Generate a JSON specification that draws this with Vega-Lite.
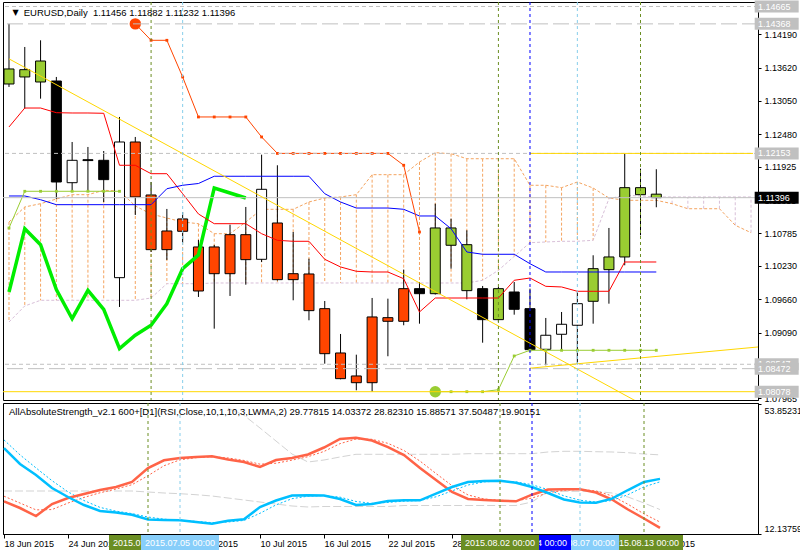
{
"$schema": "https://vega.github.io/schema/vega-lite/v6.json",
"padding": {"left": 2, "top": 0, "right": 0, "bottom": 0},
"background": "white",
"spacing": 3,
"bounds": "flush",
"config": {
  "font": "Liberation Sans",
  "view": {"stroke": "black", "strokeWidth": 1},
  "axis": {"labelFont": "Liberation Sans", "labelFontSize": 9, "labelColor": "black", "domainColor": "black", "tickColor": "black", "grid": false, "labelOverlap": false},
  "text": {"font": "Liberation Sans", "fontSize": 9}
},
"datasets": {
  "candles": [
    {"i":0,"o":1.13340,"h":1.14368,"l":1.13289,"c":1.13597,"t":"green"},
    {"i":1,"o":1.13460,"h":1.13973,"l":1.12918,"c":1.13585,"t":"green"},
    {"i":2,"o":1.13374,"h":1.14087,"l":1.13089,"c":1.13733,"t":"green"},
    {"i":3,"o":1.13391,"h":1.13460,"l":1.11374,"c":1.11664,"t":"black"},
    {"i":4,"o":1.11652,"h":1.12348,"l":1.11493,"c":1.12035,"t":"white"},
    {"i":5,"o":1.12030,"h":1.12263,"l":1.11493,"c":1.12045,"t":"black"},
    {"i":6,"o":1.12035,"h":1.12194,"l":1.11322,"c":1.11704,"t":"black"},
    {"i":7,"o":1.10028,"h":1.12776,"l":1.09527,"c":1.12348,"t":"white"},
    {"i":8,"o":1.12348,"h":1.12434,"l":1.11100,"c":1.11408,"t":"red"},
    {"i":9,"o":1.11442,"h":1.11664,"l":1.10467,"c":1.10507,"t":"red"},
    {"i":10,"o":1.10826,"h":1.11203,"l":1.10331,"c":1.10507,"t":"red"},
    {"i":11,"o":1.11032,"h":1.11151,"l":1.10626,"c":1.10821,"t":"red"},
    {"i":12,"o":1.10553,"h":1.10673,"l":1.09698,"c":1.09800,"t":"red"},
    {"i":13,"o":1.10553,"h":1.10587,"l":1.09156,"c":1.10096,"t":"red"},
    {"i":14,"o":1.10763,"h":1.10934,"l":1.09715,"c":1.10096,"t":"red"},
    {"i":15,"o":1.10763,"h":1.11237,"l":1.09908,"c":1.10336,"t":"red"},
    {"i":16,"o":1.10342,"h":1.12131,"l":1.10296,"c":1.11539,"t":"white"},
    {"i":17,"o":1.10963,"h":1.11950,"l":1.09980,"c":1.09994,"t":"red"},
    {"i":18,"o":1.10096,"h":1.10809,"l":1.09641,"c":1.09994,"t":"red"},
    {"i":19,"o":1.10091,"h":1.10353,"l":1.09299,"c":1.09464,"t":"red"},
    {"i":20,"o":1.09498,"h":1.09629,"l":1.08557,"c":1.08728,"t":"red"},
    {"i":21,"o":1.08740,"h":1.09065,"l":1.08290,"c":1.08301,"t":"red"},
    {"i":22,"o":1.08347,"h":1.08711,"l":1.08102,"c":1.08232,"t":"red"},
    {"i":23,"o":1.08232,"h":1.09681,"l":1.08078,"c":1.09356,"t":"red"},
    {"i":24,"o":1.09344,"h":1.09669,"l":1.08684,"c":1.09282,"t":"red"},
    {"i":25,"o":1.09282,"h":1.10165,"l":1.09214,"c":1.09840,"t":"red"},
    {"i":26,"o":1.09840,"h":1.09954,"l":1.09241,"c":1.09754,"t":"black"},
    {"i":27,"o":1.09754,"h":1.11293,"l":1.09740,"c":1.10878,"t":"green"},
    {"i":28,"o":1.10878,"h":1.11037,"l":1.10182,"c":1.10582,"t":"green"},
    {"i":29,"o":1.10592,"h":1.10838,"l":1.09658,"c":1.09806,"t":"green"},
    {"i":30,"o":1.09840,"h":1.09886,"l":1.08916,"c":1.09310,"t":"black"},
    {"i":31,"o":1.09310,"h":1.09869,"l":1.09270,"c":1.09840,"t":"green"},
    {"i":32,"o":1.09783,"h":1.09954,"l":1.09395,"c":1.09487,"t":"black"},
    {"i":33,"o":1.09498,"h":1.09840,"l":1.08757,"c":1.08797,"t":"black"},
    {"i":34,"o":1.08803,"h":1.09339,"l":1.08530,"c":1.09043,"t":"white"},
    {"i":35,"o":1.09060,"h":1.09441,"l":1.08786,"c":1.09231,"t":"white"},
    {"i":36,"o":1.09214,"h":1.09783,"l":1.08552,"c":1.09583,"t":"white"},
    {"i":37,"o":1.09624,"h":1.10411,"l":1.09241,"c":1.10182,"t":"green"},
    {"i":38,"o":1.10165,"h":1.10878,"l":1.09583,"c":1.10382,"t":"green"},
    {"i":39,"o":1.10382,"h":1.12153,"l":1.10240,"c":1.11567,"t":"green"},
    {"i":40,"o":1.11567,"h":1.11892,"l":1.10753,"c":1.11447,"t":"green"},
    {"i":41,"o":1.11456,"h":1.11882,"l":1.11232,"c":1.11396,"t":"green"}
  ],
  "ind": [
    {"i":0,"red":1.12605,"blue":1.11425,"lime":1.09783,"yg1":1.10877},
    {"i":1,"red":1.12929,"blue":1.11425,"lime":1.10866,"yg1":1.11505},
    {"i":2,"red":1.12929,"blue":1.11361,"lime":1.10592,"yg1":1.11505},
    {"i":3,"red":1.12849,"blue":1.11276,"lime":1.09823,"yg1":1.11505},
    {"i":4,"red":1.12844,"blue":1.11276,"lime":1.09326,"yg1":1.11505},
    {"i":5,"red":1.12844,"blue":1.11276,"lime":1.09812,"yg1":1.11505},
    {"i":6,"red":1.12839,"blue":1.11276,"lime":1.09487,"yg1":1.11505},
    {"i":7,"red":1.11950,"blue":1.11276,"lime":1.08814,"yg1":1.11505},
    {"i":8,"red":1.11950,"blue":1.11276,"lime":1.09043,"stop":1.14368},
    {"i":9,"red":1.11806,"blue":1.11276,"lime":1.09214,"stop":1.14087},
    {"i":10,"red":1.11806,"blue":1.11549,"lime":1.09583,"stop":1.14087},
    {"i":11,"red":1.11464,"blue":1.11608,"lime":1.10182,"stop":1.13460},
    {"i":12,"red":1.11117,"blue":1.11638,"lime":1.10416,"stop":1.12776},
    {"i":13,"red":1.10951,"blue":1.11762,"lime":1.11562,"stop":1.12776},
    {"i":14,"red":1.10951,"blue":1.11762,"lime":1.11476,"stop":1.12776},
    {"i":15,"red":1.10951,"blue":1.11762,"lime":1.11391,"stop":1.12776},
    {"i":16,"red":1.10780,"blue":1.11762,"stop":1.12434},
    {"i":17,"red":1.10667,"blue":1.11762,"stop":1.12153},
    {"i":18,"red":1.10650,"blue":1.11762,"stop":1.12153},
    {"i":19,"red":1.10650,"blue":1.11762,"stop":1.12153},
    {"i":20,"red":1.10342,"blue":1.11464,"stop":1.12153},
    {"i":21,"red":1.10211,"blue":1.11322,"stop":1.12153},
    {"i":22,"red":1.10137,"blue":1.11219,"stop":1.12153},
    {"i":23,"red":1.10125,"blue":1.11219,"stop":1.12153},
    {"i":24,"red":1.10125,"blue":1.11219,"stop":1.12153},
    {"i":25,"red":1.10010,"blue":1.11197,"stop":1.11950},
    {"i":26,"red":1.09441,"blue":1.11083,"stop":1.10809},
    {"i":27,"red":1.09680,"blue":1.11083,"yg2":1.08078},
    {"i":28,"red":1.09680,"blue":1.10865,"yg2":1.08078},
    {"i":29,"red":1.09680,"blue":1.10467,"yg2":1.08078},
    {"i":30,"red":1.09680,"blue":1.10428,"yg2":1.08078},
    {"i":31,"red":1.09680,"blue":1.10428,"yg2":1.08112},
    {"i":32,"red":1.09983,"blue":1.10428,"yg2":1.08689},
    {"i":33,"red":1.10022,"blue":1.10267,"yg2":1.08786},
    {"i":34,"red":1.09880,"blue":1.10125,"yg2":1.08786},
    {"i":35,"red":1.09869,"blue":1.10125,"yg2":1.08786},
    {"i":36,"red":1.09795,"blue":1.10125,"yg2":1.08786},
    {"i":37,"red":1.09795,"blue":1.10125,"yg2":1.08786},
    {"i":38,"red":1.09795,"blue":1.10125,"yg2":1.08786},
    {"i":39,"red":1.10296,"blue":1.10125,"yg2":1.08786},
    {"i":40,"red":1.10296,"blue":1.10125,"yg2":1.08786},
    {"i":41,"red":1.10296,"blue":1.10125,"yg2":1.08786}
  ],
  "ich": [
    {"i":0,"A":1.10980,"B":1.09270},{"i":1,"A":1.11237,"B":1.09544},{"i":2,"A":1.11293,"B":1.09641},
    {"i":3,"A":1.11373,"B":1.09641},{"i":4,"A":1.11447,"B":1.09641},{"i":5,"A":1.11447,"B":1.09641},
    {"i":6,"A":1.11522,"B":1.09641},{"i":7,"A":1.11510,"B":1.09641},{"i":8,"A":1.11254,"B":1.09641},
    {"i":9,"A":1.11117,"B":1.09680},{"i":10,"A":1.11048,"B":1.09925},{"i":11,"A":1.10980,"B":1.09925},
    {"i":12,"A":1.10951,"B":1.09925},{"i":13,"A":1.10780,"B":1.09937},{"i":14,"A":1.10780,"B":1.09937},
    {"i":15,"A":1.10980,"B":1.09937},{"i":16,"A":1.11197,"B":1.09937},{"i":17,"A":1.11197,"B":1.09937},
    {"i":18,"A":1.11197,"B":1.09937},{"i":19,"A":1.11322,"B":1.09937},{"i":20,"A":1.11390,"B":1.09937},
    {"i":21,"A":1.11408,"B":1.09937},{"i":22,"A":1.11447,"B":1.09937},{"i":23,"A":1.11789,"B":1.09937},
    {"i":24,"A":1.11789,"B":1.09937},{"i":25,"A":1.11789,"B":1.09937},{"i":26,"A":1.12006,"B":1.09937},
    {"i":27,"A":1.12165,"B":1.09937},{"i":28,"A":1.12148,"B":1.09937},{"i":29,"A":1.12062,"B":1.09937},
    {"i":30,"A":1.12062,"B":1.09983},{"i":31,"A":1.12062,"B":1.10154},{"i":32,"A":1.12062,"B":1.10393},
    {"i":33,"A":1.11608,"B":1.10626},{"i":34,"A":1.11608,"B":1.10638},{"i":35,"A":1.11567,"B":1.10650},
    {"i":36,"A":1.11664,"B":1.10650},{"i":37,"A":1.11561,"B":1.10667},{"i":38,"A":1.11390,"B":1.11378},
    {"i":39,"A":1.11351,"B":1.11437},{"i":40,"A":1.11351,"B":1.11425},{"i":41,"A":1.11351,"B":1.11408},
    {"i":42,"A":1.11293,"B":1.11408},{"i":43,"A":1.11207,"B":1.11408},{"i":44,"A":1.11207,"B":1.11408},
    {"i":45,"A":1.11207,"B":1.11408},{"i":46,"A":1.10924,"B":1.11408},{"i":47,"A":1.10797,"B":1.11408}
  ],
  "hl": [
    {"price":1.14665,"kind":"short"},
    {"price":1.14368,"kind":"long"},
    {"price":1.12153,"kind":"short"},
    {"price":1.11396,"kind":"solid"},
    {"price":1.08547,"kind":"short"},
    {"price":1.08472,"kind":"long"},
    {"price":1.08078,"kind":"gold"}
  ],
  "ray": [{"i":33,"price":1.12153}],
  "tl": [
    {"id":"t1","i":0,"price":1.13770},{"id":"t1","i":41,"price":1.07728},
    {"id":"t2","i":33,"price":1.08480},{"id":"t2","i":50,"price":1.08907}
  ],
  "vl": [
    {"i":9,"kind":"olive","label":"2015.07.01 00:00"},
    {"i":11,"kind":"lightblue","label":"2015.07.05 00:00"},
    {"i":31,"kind":"olive","label":"2015.08.02 00:00"},
    {"i":33,"kind":"blue","label":"2015.08.04 00:00"},
    {"i":36,"kind":"lightblue","label":"2015.08.07 00:00"},
    {"i":40,"kind":"olive","label":"2015.08.13 00:00"}
  ],
  "tags": [
    {"price":1.14665,"kind":"grey","label":"1.14665"},
    {"price":1.14368,"kind":"grey","label":"1.14368"},
    {"price":1.12153,"kind":"grey","label":"1.12153"},
    {"price":1.08547,"kind":"grey","label":"1.08547"},
    {"price":1.08472,"kind":"grey","label":"1.08472"},
    {"price":1.08078,"kind":"grey","label":"1.08078"},
    {"price":1.11396,"kind":"black","label":"1.11396"}
  ],
  "hdr": [
    {"panel":"arrow","text":"▼"},
    {"panel":"main","text":"EURUSD,Daily\u00a0 1.11456 1.11882 1.11232 1.11396"},
    {"panel":"ind","text":"AllAbsoluteStrength_v2.1 600+[D1](RSI,Close,10,1,10,3,LWMA,2) 29.77815 14.03372 28.82310 15.88571 37.50487 19.90151"}
  ],
  "str": [
    {"i":0,"red":22.56,"blue":39.70,"rs":24.2,"bs":42.3,"gl":25.87},
    {"i":1,"red":20.40,"blue":34.56,"rs":22.0,"bs":37.5,"gl":25.87},
    {"i":2,"red":17.83,"blue":31.02,"rs":19.8,"bs":33.3,"gl":25.87},
    {"i":3,"red":21.69,"blue":26.84,"rs":19.9,"bs":29.2,"gl":25.87},
    {"i":4,"red":23.62,"blue":23.94,"rs":22.0,"bs":25.6,"gl":25.87},
    {"i":5,"red":24.91,"blue":21.37,"rs":23.8,"bs":22.8,"gl":25.87},
    {"i":6,"red":26.19,"blue":19.44,"rs":25.3,"bs":20.6,"gl":25.87},
    {"i":7,"red":27.16,"blue":18.96,"rs":26.5,"bs":19.4,"gl":25.87},
    {"i":8,"red":28.77,"blue":18.25,"rs":27.9,"bs":18.6,"gl":25.87},
    {"i":9,"red":33.27,"blue":16.70,"rs":30.8,"bs":17.5,"gl":25.55},
    {"i":10,"red":35.75,"blue":16.54,"rs":34.0,"bs":16.8,"gl":25.23},
    {"i":11,"red":36.49,"blue":16.45,"rs":35.9,"bs":16.5,"gl":25.00},
    {"i":12,"red":36.81,"blue":15.90,"rs":36.6,"bs":16.1,"gl":24.68},
    {"i":13,"red":37.03,"blue":15.35,"rs":36.9,"bs":15.7,"gl":24.26},
    {"i":14,"red":36.00,"blue":16.32,"rs":36.5,"bs":15.9,"gl":23.62,"gu":52.5},
    {"i":15,"red":35.20,"blue":16.77,"rs":35.7,"bs":16.4,"gl":22.98,"gu":50.22},
    {"i":16,"red":33.59,"blue":20.73,"rs":34.5,"bs":18.7,"gl":22.33,"gu":46.14},
    {"i":17,"red":35.84,"blue":22.82,"rs":34.8,"bs":21.4,"gl":21.69,"gu":41.95},
    {"i":18,"red":36.49,"blue":24.42,"rs":35.8,"bs":23.4,"gl":21.05,"gu":37.77},
    {"i":19,"red":37.61,"blue":24.49,"rs":36.9,"bs":24.2,"gl":20.73,"gu":35.20},
    {"i":20,"red":39.86,"blue":24.42,"rs":38.6,"bs":24.4,"gl":20.89,"gu":35.84},
    {"i":21,"red":42.60,"blue":23.30,"rs":41.1,"bs":23.9,"gl":20.89,"gu":36.81},
    {"i":22,"red":43.02,"blue":21.37,"rs":42.6,"bs":22.5,"gl":20.89,"gu":37.68},
    {"i":23,"red":42.12,"blue":21.69,"rs":42.5,"bs":21.9,"gl":20.89,"gu":37.68},
    {"i":24,"red":40.02,"blue":22.66,"rs":41.2,"bs":22.2,"gl":20.89,"gu":37.68},
    {"i":25,"red":37.45,"blue":22.88,"rs":38.9,"bs":22.6,"gl":21.21,"gu":37.68},
    {"i":26,"red":33.27,"blue":22.88,"rs":35.5,"bs":22.8,"gl":21.21,"gu":37.68},
    {"i":27,"red":29.41,"blue":25.00,"rs":31.5,"bs":24.0,"gl":21.21,"gu":37.68},
    {"i":28,"red":25.55,"blue":27.16,"rs":27.6,"bs":25.9,"gl":21.21,"gu":37.68},
    {"i":29,"red":23.30,"blue":28.77,"rs":24.6,"bs":27.8,"gl":21.21,"gu":37.87},
    {"i":30,"red":22.98,"blue":29.09,"rs":23.3,"bs":28.8,"gl":21.21,"gu":37.87},
    {"i":31,"red":22.75,"blue":29.18,"rs":22.9,"bs":29.1,"gl":21.21,"gu":37.87},
    {"i":32,"red":22.56,"blue":28.54,"rs":22.7,"bs":28.8,"gl":21.21,"gu":37.87},
    {"i":33,"red":24.68,"blue":27.16,"rs":23.6,"bs":27.9,"gl":22.33,"gu":37.87},
    {"i":34,"red":26.35,"blue":25.23,"rs":25.3,"bs":26.3,"gl":25.77,"gu":38.42},
    {"i":35,"red":26.42,"blue":23.14,"rs":26.1,"bs":24.3,"gl":25.77,"gu":38.64},
    {"i":36,"red":26.42,"blue":22.17,"rs":26.4,"bs":22.9,"gl":25.77,"gu":38.64},
    {"i":37,"red":25.39,"blue":22.11,"rs":25.9,"bs":22.3,"gl":25.77,"gu":38.51},
    {"i":38,"red":23.14,"blue":23.40,"rs":24.3,"bs":22.8,"gl":25.23,"gu":38.42},
    {"i":39,"red":19.92,"blue":26.19,"rs":21.6,"bs":24.7,"gl":23.94,"gu":38.19},
    {"i":40,"red":17.03,"blue":28.77,"rs":18.5,"bs":27.2,"gl":22.01,"gu":37.77},
    {"i":41,"red":14.03,"blue":29.78,"rs":15.89,"bs":28.82,"gl":19.90,"gu":37.50}
  ]
},
"vconcat": [
{
  "width": 755,
  "height": 398,
  "resolve": {"scale": {"color": "independent", "strokeDash": "independent"}},
  "layer": [
    {"data": {"name": "ich"},
     "mark": {"type": "rule", "strokeDash": [3, 2], "strokeWidth": 1, "clip": true},
     "encoding": {
       "x": {"field": "i", "type": "quantitative", "scale": {"domain": [-0.0625, 47.125], "nice": false, "zero": false}, "axis": null},
       "y": {"field": "A", "type": "quantitative", "scale": {"domain": [1.07936, 1.14742], "nice": false, "zero": false}, "axis": {"orient": "right", "title": null, "values": [1.14190, 1.13620, 1.13050, 1.12480, 1.11925, 1.11355, 1.10785, 1.10230, 1.09660, 1.09090, 1.08520, 1.07965], "format": ".5f", "tickSize": 3, "labelPadding": 3, "labelOverlap": false, "labelFlush": false}},
       "y2": {"field": "B"},
       "color": {"condition": {"test": "datum.A >= datum.B", "value": "#F4A460"}, "value": "#D8BFD8"}}},
    {"data": {"name": "ich"},
     "mark": {"type": "line", "color": "#F4A460", "strokeDash": [3, 2], "strokeWidth": 1, "clip": true},
     "encoding": {
       "x": {"field": "i", "type": "quantitative", "scale": {"domain": [-0.0625, 47.125], "nice": false, "zero": false}, "axis": null},
       "y": {"field": "A", "type": "quantitative", "scale": {"domain": [1.07936, 1.14742], "nice": false, "zero": false}, "axis": {"orient": "right", "title": null, "values": [1.14190, 1.13620, 1.13050, 1.12480, 1.11925, 1.11355, 1.10785, 1.10230, 1.09660, 1.09090, 1.08520, 1.07965], "format": ".5f", "tickSize": 3, "labelPadding": 3, "labelOverlap": false, "labelFlush": false}}}},
    {"data": {"name": "ich"},
     "mark": {"type": "line", "color": "#D8BFD8", "strokeDash": [3, 2], "strokeWidth": 1, "clip": true},
     "encoding": {
       "x": {"field": "i", "type": "quantitative", "scale": {"domain": [-0.0625, 47.125], "nice": false, "zero": false}, "axis": null},
       "y": {"field": "B", "type": "quantitative", "scale": {"domain": [1.07936, 1.14742], "nice": false, "zero": false}, "axis": {"orient": "right", "title": null, "values": [1.14190, 1.13620, 1.13050, 1.12480, 1.11925, 1.11355, 1.10785, 1.10230, 1.09660, 1.09090, 1.08520, 1.07965], "format": ".5f", "tickSize": 3, "labelPadding": 3, "labelOverlap": false, "labelFlush": false}}}},
    {"data": {"name": "candles"},
     "mark": {"type": "rule", "color": "black", "strokeWidth": 1, "clip": true},
     "encoding": {
       "x": {"field": "i", "type": "quantitative", "scale": {"domain": [-0.0625, 47.125], "nice": false, "zero": false}, "axis": null},
       "y": {"field": "l", "type": "quantitative", "scale": {"domain": [1.07936, 1.14742], "nice": false, "zero": false}, "axis": {"orient": "right", "title": null, "values": [1.14190, 1.13620, 1.13050, 1.12480, 1.11925, 1.11355, 1.10785, 1.10230, 1.09660, 1.09090, 1.08520, 1.07965], "format": ".5f", "tickSize": 3, "labelPadding": 3, "labelOverlap": false, "labelFlush": false}},
       "y2": {"field": "h"}}},
    {"data": {"name": "candles"},
     "mark": {"type": "bar", "width": 10, "stroke": "black", "strokeWidth": 1, "clip": true},
     "encoding": {
       "x": {"field": "i", "type": "quantitative", "scale": {"domain": [-0.0625, 47.125], "nice": false, "zero": false}, "axis": null},
       "y": {"field": "o", "type": "quantitative", "scale": {"domain": [1.07936, 1.14742], "nice": false, "zero": false}, "axis": {"orient": "right", "title": null, "values": [1.14190, 1.13620, 1.13050, 1.12480, 1.11925, 1.11355, 1.10785, 1.10230, 1.09660, 1.09090, 1.08520, 1.07965], "format": ".5f", "tickSize": 3, "labelPadding": 3, "labelOverlap": false, "labelFlush": false}},
       "y2": {"field": "c"},
       "color": {"field": "t", "type": "nominal", "scale": {"domain": ["green", "red", "black", "white"], "range": ["#9ACD32", "#FF4500", "#000000", "#FFFFFF"]}, "legend": null}}},
    {"data": {"name": "ind"},
     "mark": {"type": "line", "color": "#00EE00", "strokeWidth": 3.5, "clip": true},
     "encoding": {
       "x": {"field": "i", "type": "quantitative", "scale": {"domain": [-0.0625, 47.125], "nice": false, "zero": false}, "axis": null},
       "y": {"field": "lime", "type": "quantitative", "scale": {"domain": [1.07936, 1.14742], "nice": false, "zero": false}, "axis": {"orient": "right", "title": null, "values": [1.14190, 1.13620, 1.13050, 1.12480, 1.11925, 1.11355, 1.10785, 1.10230, 1.09660, 1.09090, 1.08520, 1.07965], "format": ".5f", "tickSize": 3, "labelPadding": 3, "labelOverlap": false, "labelFlush": false}}}},
    {"data": {"name": "ind"},
     "mark": {"type": "line", "color": "#FF0000", "strokeWidth": 1, "clip": true},
     "encoding": {
       "x": {"field": "i", "type": "quantitative", "scale": {"domain": [-0.0625, 47.125], "nice": false, "zero": false}, "axis": null},
       "y": {"field": "red", "type": "quantitative", "scale": {"domain": [1.07936, 1.14742], "nice": false, "zero": false}, "axis": {"orient": "right", "title": null, "values": [1.14190, 1.13620, 1.13050, 1.12480, 1.11925, 1.11355, 1.10785, 1.10230, 1.09660, 1.09090, 1.08520, 1.07965], "format": ".5f", "tickSize": 3, "labelPadding": 3, "labelOverlap": false, "labelFlush": false}}}},
    {"data": {"name": "ind"},
     "mark": {"type": "line", "color": "#0000FF", "strokeWidth": 1, "clip": true},
     "encoding": {
       "x": {"field": "i", "type": "quantitative", "scale": {"domain": [-0.0625, 47.125], "nice": false, "zero": false}, "axis": null},
       "y": {"field": "blue", "type": "quantitative", "scale": {"domain": [1.07936, 1.14742], "nice": false, "zero": false}, "axis": {"orient": "right", "title": null, "values": [1.14190, 1.13620, 1.13050, 1.12480, 1.11925, 1.11355, 1.10785, 1.10230, 1.09660, 1.09090, 1.08520, 1.07965], "format": ".5f", "tickSize": 3, "labelPadding": 3, "labelOverlap": false, "labelFlush": false}}}},
    {"data": {"name": "ind"},
     "mark": {"type": "line", "color": "#FF4500", "strokeWidth": 1, "clip": true, "point": {"shape": "square", "size": 8, "filled": true, "color": "#FF4500"}},
     "encoding": {
       "x": {"field": "i", "type": "quantitative", "scale": {"domain": [-0.0625, 47.125], "nice": false, "zero": false}, "axis": null},
       "y": {"field": "stop", "type": "quantitative", "scale": {"domain": [1.07936, 1.14742], "nice": false, "zero": false}, "axis": {"orient": "right", "title": null, "values": [1.14190, 1.13620, 1.13050, 1.12480, 1.11925, 1.11355, 1.10785, 1.10230, 1.09660, 1.09090, 1.08520, 1.07965], "format": ".5f", "tickSize": 3, "labelPadding": 3, "labelOverlap": false, "labelFlush": false}}}},
    {"data": {"name": "ind"},
     "transform": [{"filter": "datum.i == 8"}],
     "mark": {"type": "point", "shape": "circle", "filled": true, "size": 130, "color": "#FF4500", "opacity": 1},
     "encoding": {
       "x": {"field": "i", "type": "quantitative", "scale": {"domain": [-0.0625, 47.125], "nice": false, "zero": false}, "axis": null},
       "y": {"field": "stop", "type": "quantitative", "scale": {"domain": [1.07936, 1.14742], "nice": false, "zero": false}, "axis": {"orient": "right", "title": null, "values": [1.14190, 1.13620, 1.13050, 1.12480, 1.11925, 1.11355, 1.10785, 1.10230, 1.09660, 1.09090, 1.08520, 1.07965], "format": ".5f", "tickSize": 3, "labelPadding": 3, "labelOverlap": false, "labelFlush": false}}}},
    {"data": {"name": "ind"},
     "mark": {"type": "line", "color": "#9ACD32", "strokeWidth": 1, "clip": true, "point": {"shape": "square", "size": 8, "filled": true, "color": "#9ACD32"}},
     "encoding": {
       "x": {"field": "i", "type": "quantitative", "scale": {"domain": [-0.0625, 47.125], "nice": false, "zero": false}, "axis": null},
       "y": {"field": "yg1", "type": "quantitative", "scale": {"domain": [1.07936, 1.14742], "nice": false, "zero": false}, "axis": {"orient": "right", "title": null, "values": [1.14190, 1.13620, 1.13050, 1.12480, 1.11925, 1.11355, 1.10785, 1.10230, 1.09660, 1.09090, 1.08520, 1.07965], "format": ".5f", "tickSize": 3, "labelPadding": 3, "labelOverlap": false, "labelFlush": false}}}},
    {"data": {"name": "ind"},
     "mark": {"type": "line", "color": "#9ACD32", "strokeWidth": 1, "clip": true, "point": {"shape": "square", "size": 8, "filled": true, "color": "#9ACD32"}},
     "encoding": {
       "x": {"field": "i", "type": "quantitative", "scale": {"domain": [-0.0625, 47.125], "nice": false, "zero": false}, "axis": null},
       "y": {"field": "yg2", "type": "quantitative", "scale": {"domain": [1.07936, 1.14742], "nice": false, "zero": false}, "axis": {"orient": "right", "title": null, "values": [1.14190, 1.13620, 1.13050, 1.12480, 1.11925, 1.11355, 1.10785, 1.10230, 1.09660, 1.09090, 1.08520, 1.07965], "format": ".5f", "tickSize": 3, "labelPadding": 3, "labelOverlap": false, "labelFlush": false}}}},
    {"data": {"name": "ind"},
     "transform": [{"filter": "datum.i == 27"}],
     "mark": {"type": "point", "shape": "circle", "filled": true, "size": 130, "color": "#9ACD32", "opacity": 1},
     "encoding": {
       "x": {"field": "i", "type": "quantitative", "scale": {"domain": [-0.0625, 47.125], "nice": false, "zero": false}, "axis": null},
       "y": {"field": "yg2", "type": "quantitative", "scale": {"domain": [1.07936, 1.14742], "nice": false, "zero": false}, "axis": {"orient": "right", "title": null, "values": [1.14190, 1.13620, 1.13050, 1.12480, 1.11925, 1.11355, 1.10785, 1.10230, 1.09660, 1.09090, 1.08520, 1.07965], "format": ".5f", "tickSize": 3, "labelPadding": 3, "labelOverlap": false, "labelFlush": false}}}},
    {"data": {"name": "hl"},
     "mark": {"type": "rule", "strokeWidth": 1},
     "encoding": {
       "y": {"field": "price", "type": "quantitative", "scale": {"domain": [1.07936, 1.14742], "nice": false, "zero": false}, "axis": {"orient": "right", "title": null, "values": [1.14190, 1.13620, 1.13050, 1.12480, 1.11925, 1.11355, 1.10785, 1.10230, 1.09660, 1.09090, 1.08520, 1.07965], "format": ".5f", "tickSize": 3, "labelPadding": 3, "labelOverlap": false, "labelFlush": false}},
       "color": {"field": "kind", "type": "nominal", "scale": {"domain": ["short", "long", "solid", "gold"], "range": ["#C0C0C0", "#C0C0C0", "#C0C0C0", "#FFD700"]}, "legend": null},
       "strokeDash": {"field": "kind", "type": "nominal", "scale": {"domain": ["short", "long", "solid", "gold"], "range": [[4, 3], [16, 5], [1, 0], [1, 0]]}, "legend": null}}},
    {"data": {"name": "ray"},
     "mark": {"type": "rule", "strokeWidth": 1, "color": "#FFD700"},
     "encoding": {
       "x": {"field": "i", "type": "quantitative", "scale": {"domain": [-0.0625, 47.125], "nice": false, "zero": false}, "axis": null},
       "x2": {"datum": 47.125},
       "y": {"field": "price", "type": "quantitative", "scale": {"domain": [1.07936, 1.14742], "nice": false, "zero": false}, "axis": {"orient": "right", "title": null, "values": [1.14190, 1.13620, 1.13050, 1.12480, 1.11925, 1.11355, 1.10785, 1.10230, 1.09660, 1.09090, 1.08520, 1.07965], "format": ".5f", "tickSize": 3, "labelPadding": 3, "labelOverlap": false, "labelFlush": false}}}},
    {"data": {"name": "tl"},
     "mark": {"type": "line", "strokeWidth": 1, "color": "#FFD700", "clip": true},
     "encoding": {
       "x": {"field": "i", "type": "quantitative", "scale": {"domain": [-0.0625, 47.125], "nice": false, "zero": false}, "axis": null},
       "y": {"field": "price", "type": "quantitative", "scale": {"domain": [1.07936, 1.14742], "nice": false, "zero": false}, "axis": {"orient": "right", "title": null, "values": [1.14190, 1.13620, 1.13050, 1.12480, 1.11925, 1.11355, 1.10785, 1.10230, 1.09660, 1.09090, 1.08520, 1.07965], "format": ".5f", "tickSize": 3, "labelPadding": 3, "labelOverlap": false, "labelFlush": false}},
       "detail": {"field": "id", "type": "nominal"}}},
    {"data": {"name": "vl"},
     "mark": {"type": "rule", "strokeWidth": 1, "strokeDash": [3, 3]},
     "encoding": {
       "x": {"field": "i", "type": "quantitative", "scale": {"domain": [-0.0625, 47.125], "nice": false, "zero": false}, "axis": null},
       "color": {"field": "kind", "type": "nominal", "scale": {"domain": ["olive", "lightblue", "blue"], "range": ["#6B8E23", "#87CEEB", "#0000FF"]}, "legend": null}}},
    {"data": {"name": "hdr"},
     "transform": [{"filter": "datum.panel == 'arrow'"}],
     "mark": {"type": "text", "align": "center", "baseline": "middle", "fontSize": 8, "font": "DejaVu Sans", "color": "black"},
     "encoding": {
       "x": {"datum": 0.42, "type": "quantitative", "scale": {"domain": [-0.0625, 47.125], "nice": false, "zero": false}, "axis": null},
       "y": {"datum": 1.14554, "type": "quantitative", "scale": {"domain": [1.07936, 1.14742], "nice": false, "zero": false}, "axis": {"orient": "right", "title": null, "values": [1.14190, 1.13620, 1.13050, 1.12480, 1.11925, 1.11355, 1.10785, 1.10230, 1.09660, 1.09090, 1.08520, 1.07965], "format": ".5f", "tickSize": 3, "labelPadding": 3, "labelOverlap": false, "labelFlush": false}},
       "text": {"field": "text"}}},
    {"data": {"name": "hdr"},
     "transform": [{"filter": "datum.panel == 'main'"}],
     "mark": {"type": "text", "align": "left", "baseline": "middle", "fontSize": 9.5, "color": "black"},
     "encoding": {
       "x": {"datum": 0.9375, "type": "quantitative", "scale": {"domain": [-0.0625, 47.125], "nice": false, "zero": false}, "axis": null},
       "y": {"datum": 1.14554, "type": "quantitative", "scale": {"domain": [1.07936, 1.14742], "nice": false, "zero": false}, "axis": {"orient": "right", "title": null, "values": [1.14190, 1.13620, 1.13050, 1.12480, 1.11925, 1.11355, 1.10785, 1.10230, 1.09660, 1.09090, 1.08520, 1.07965], "format": ".5f", "tickSize": 3, "labelPadding": 3, "labelOverlap": false, "labelFlush": false}},
       "text": {"field": "text"}}},
    {"data": {"name": "tags"},
     "transform": [{"filter": "datum.label == '1.08547'"}],
     "mark": {"type": "tick", "orient": "horizontal", "size": 44, "thickness": 12, "opacity": 1, "clip": false},
     "encoding": {
       "x": {"datum": 48.625, "type": "quantitative", "scale": {"domain": [-0.0625, 47.125], "nice": false, "zero": false}, "axis": null},
       "y": {"field": "price", "type": "quantitative", "scale": {"domain": [1.07936, 1.14742], "nice": false, "zero": false}, "axis": {"orient": "right", "title": null, "values": [1.14190, 1.13620, 1.13050, 1.12480, 1.11925, 1.11355, 1.10785, 1.10230, 1.09660, 1.09090, 1.08520, 1.07965], "format": ".5f", "tickSize": 3, "labelPadding": 3, "labelOverlap": false, "labelFlush": false}},
       "color": {"field": "kind", "type": "nominal", "scale": {"domain": ["grey", "black"], "range": ["#C0C0C0", "#000000"]}, "legend": null}}},
    {"data": {"name": "tags"},
     "transform": [{"filter": "datum.label == '1.08547'"}],
     "mark": {"type": "text", "align": "left", "baseline": "middle", "color": "white", "fontSize": 9, "clip": false},
     "encoding": {
       "x": {"datum": 47.4375, "type": "quantitative", "scale": {"domain": [-0.0625, 47.125], "nice": false, "zero": false}, "axis": null},
       "y": {"field": "price", "type": "quantitative", "scale": {"domain": [1.07936, 1.14742], "nice": false, "zero": false}, "axis": {"orient": "right", "title": null, "values": [1.14190, 1.13620, 1.13050, 1.12480, 1.11925, 1.11355, 1.10785, 1.10230, 1.09660, 1.09090, 1.08520, 1.07965], "format": ".5f", "tickSize": 3, "labelPadding": 3, "labelOverlap": false, "labelFlush": false}},
       "text": {"field": "label"}}},
    {"data": {"name": "tags"},
     "transform": [{"filter": "datum.label != '1.08547'"}],
     "mark": {"type": "tick", "orient": "horizontal", "size": 44, "thickness": 12, "opacity": 1, "clip": false},
     "encoding": {
       "x": {"datum": 48.625, "type": "quantitative", "scale": {"domain": [-0.0625, 47.125], "nice": false, "zero": false}, "axis": null},
       "y": {"field": "price", "type": "quantitative", "scale": {"domain": [1.07936, 1.14742], "nice": false, "zero": false}, "axis": {"orient": "right", "title": null, "values": [1.14190, 1.13620, 1.13050, 1.12480, 1.11925, 1.11355, 1.10785, 1.10230, 1.09660, 1.09090, 1.08520, 1.07965], "format": ".5f", "tickSize": 3, "labelPadding": 3, "labelOverlap": false, "labelFlush": false}},
       "color": {"field": "kind", "type": "nominal", "scale": {"domain": ["grey", "black"], "range": ["#C0C0C0", "#000000"]}, "legend": null}}},
    {"data": {"name": "tags"},
     "transform": [{"filter": "datum.label != '1.08547'"}],
     "mark": {"type": "text", "align": "left", "baseline": "middle", "color": "white", "fontSize": 9, "clip": false},
     "encoding": {
       "x": {"datum": 47.4375, "type": "quantitative", "scale": {"domain": [-0.0625, 47.125], "nice": false, "zero": false}, "axis": null},
       "y": {"field": "price", "type": "quantitative", "scale": {"domain": [1.07936, 1.14742], "nice": false, "zero": false}, "axis": {"orient": "right", "title": null, "values": [1.14190, 1.13620, 1.13050, 1.12480, 1.11925, 1.11355, 1.10785, 1.10230, 1.09660, 1.09090, 1.08520, 1.07965], "format": ".5f", "tickSize": 3, "labelPadding": 3, "labelOverlap": false, "labelFlush": false}},
       "text": {"field": "label"}}}
  ]
},
{
  "width": 755,
  "height": 131,
  "resolve": {"scale": {"color": "independent"}},
  "layer": [
    {"data": {"name": "str"},
     "mark": {"type": "line", "color": "#FF6347", "strokeWidth": 2.5, "opacity": 0, "clip": true},
     "encoding": {
       "x": {"field": "i", "type": "quantitative", "scale": {"domain": [-0.0625, 47.125], "nice": false, "zero": false},
             "axis": {"orient": "bottom", "title": null, "values": [0, 4, 8, 12, 16, 20, 24, 28, 32, 36, 40],
                      "labelExpr": "['18 Jun 2015','24 Jun 2015','30 Jun 2015','6 Jul 2015','10 Jul 2015','16 Jul 2015','22 Jul 2015','28 Jul 2015','3 Aug 2015','7 Aug 2015','13 Aug 2015'][round(datum.value/4)]",
                      "labelAlign": "left", "labelBaseline": "top", "tickSize": 4, "labelPadding": 1, "labelOverlap": false, "labelFlush": false}},
       "y": {"field": "red", "type": "quantitative", "scale": {"domain": [12.04, 54.18], "nice": false, "zero": false},
             "axis": {"orient": "right", "title": null, "values": [12.13759, 53.85231], "format": ".5f", "tickSize": 3, "labelPadding": 3, "labelFlush": false, "labelBaseline": "middle",
                      "labelOffset": {"condition": {"test": "datum.value > 30", "value": 6}, "value": -5}, "labelOverlap": false}}}},
    {"data": {"name": "str"},
     "mark": {"type": "line", "color": "#D3D3D3", "strokeWidth": 1, "strokeDash": [8, 3], "clip": true},
     "encoding": {
       "x": {"field": "i", "type": "quantitative", "scale": {"domain": [-0.0625, 47.125], "nice": false, "zero": false}},
       "y": {"field": "gl", "type": "quantitative", "scale": {"domain": [12.04, 54.18], "nice": false, "zero": false}}}},
    {"data": {"name": "str"},
     "mark": {"type": "line", "color": "#D3D3D3", "strokeWidth": 1, "strokeDash": [8, 3], "clip": true},
     "encoding": {
       "x": {"field": "i", "type": "quantitative", "scale": {"domain": [-0.0625, 47.125], "nice": false, "zero": false}},
       "y": {"field": "gu", "type": "quantitative", "scale": {"domain": [12.04, 54.18], "nice": false, "zero": false}}}},
    {"data": {"name": "str"},
     "mark": {"type": "line", "color": "#FF6347", "strokeWidth": 1, "strokeDash": [2, 2], "clip": true},
     "encoding": {
       "x": {"field": "i", "type": "quantitative", "scale": {"domain": [-0.0625, 47.125], "nice": false, "zero": false}},
       "y": {"field": "rs", "type": "quantitative", "scale": {"domain": [12.04, 54.18], "nice": false, "zero": false}}}},
    {"data": {"name": "str"},
     "mark": {"type": "line", "color": "#00BFFF", "strokeWidth": 1, "strokeDash": [2, 2], "clip": true},
     "encoding": {
       "x": {"field": "i", "type": "quantitative", "scale": {"domain": [-0.0625, 47.125], "nice": false, "zero": false}},
       "y": {"field": "bs", "type": "quantitative", "scale": {"domain": [12.04, 54.18], "nice": false, "zero": false}}}},
    {"data": {"name": "str"},
     "mark": {"type": "line", "color": "#FF6347", "strokeWidth": 2.5, "clip": true},
     "encoding": {
       "x": {"field": "i", "type": "quantitative", "scale": {"domain": [-0.0625, 47.125], "nice": false, "zero": false}},
       "y": {"field": "red", "type": "quantitative", "scale": {"domain": [12.04, 54.18], "nice": false, "zero": false}}}},
    {"data": {"name": "str"},
     "mark": {"type": "line", "color": "#00BFFF", "strokeWidth": 2.5, "clip": true},
     "encoding": {
       "x": {"field": "i", "type": "quantitative", "scale": {"domain": [-0.0625, 47.125], "nice": false, "zero": false}},
       "y": {"field": "blue", "type": "quantitative", "scale": {"domain": [12.04, 54.18], "nice": false, "zero": false}}}},
    {"data": {"name": "vl"},
     "mark": {"type": "rule", "strokeWidth": 1, "strokeDash": [3, 3]},
     "encoding": {
       "x": {"field": "i", "type": "quantitative", "scale": {"domain": [-0.0625, 47.125], "nice": false, "zero": false}},
       "color": {"field": "kind", "type": "nominal", "scale": {"domain": ["olive", "lightblue", "blue"], "range": ["#6B8E23", "#87CEEB", "#0000FF"]}, "legend": null}}},
    {"data": {"name": "hdr"},
     "transform": [{"filter": "datum.panel == 'ind'"}],
     "mark": {"type": "text", "align": "left", "baseline": "middle", "fontSize": 9.5, "color": "black"},
     "encoding": {
       "x": {"datum": 0.3125, "type": "quantitative", "scale": {"domain": [-0.0625, 47.125], "nice": false, "zero": false}},
       "y": {"datum": 51.28, "type": "quantitative", "scale": {"domain": [12.04, 54.18], "nice": false, "zero": false}},
       "text": {"field": "text"}}},
    {"data": {"name": "vl"},
     "transform": [{"filter": "datum.label == '2015.07.01 00:00' || datum.label == '2015.08.13 00:00'"}],
     "mark": {"type": "tick", "orient": "horizontal", "size": 78, "thickness": 16, "opacity": 1, "clip": false},
     "encoding": {
       "x": {"field": "i", "type": "quantitative", "scale": {"domain": [-0.0625, 47.125], "nice": false, "zero": false}},
       "y": {"datum": 9.15, "type": "quantitative", "scale": {"domain": [12.04, 54.18], "nice": false, "zero": false}},
       "color": {"field": "kind", "type": "nominal", "scale": {"domain": ["olive", "lightblue", "blue"], "range": ["#6B8E23", "#87CEFA", "#0000FF"]}, "legend": null}}},
    {"data": {"name": "vl"},
     "transform": [{"filter": "datum.label == '2015.07.01 00:00' || datum.label == '2015.08.13 00:00'"}],
     "mark": {"type": "text", "align": "center", "baseline": "middle", "color": "white", "fontSize": 9, "clip": false},
     "encoding": {
       "x": {"field": "i", "type": "quantitative", "scale": {"domain": [-0.0625, 47.125], "nice": false, "zero": false}},
       "y": {"datum": 9.15, "type": "quantitative", "scale": {"domain": [12.04, 54.18], "nice": false, "zero": false}},
       "text": {"field": "label"}}},
    {"data": {"name": "vl"},
     "transform": [{"filter": "datum.label == '2015.07.05 00:00' || datum.label == '2015.08.07 00:00'"}],
     "mark": {"type": "tick", "orient": "horizontal", "size": 78, "thickness": 16, "opacity": 1, "clip": false},
     "encoding": {
       "x": {"field": "i", "type": "quantitative", "scale": {"domain": [-0.0625, 47.125], "nice": false, "zero": false}},
       "y": {"datum": 9.15, "type": "quantitative", "scale": {"domain": [12.04, 54.18], "nice": false, "zero": false}},
       "color": {"field": "kind", "type": "nominal", "scale": {"domain": ["olive", "lightblue", "blue"], "range": ["#6B8E23", "#87CEFA", "#0000FF"]}, "legend": null}}},
    {"data": {"name": "vl"},
     "transform": [{"filter": "datum.label == '2015.07.05 00:00' || datum.label == '2015.08.07 00:00'"}],
     "mark": {"type": "text", "align": "center", "baseline": "middle", "color": "white", "fontSize": 9, "clip": false},
     "encoding": {
       "x": {"field": "i", "type": "quantitative", "scale": {"domain": [-0.0625, 47.125], "nice": false, "zero": false}},
       "y": {"datum": 9.15, "type": "quantitative", "scale": {"domain": [12.04, 54.18], "nice": false, "zero": false}},
       "text": {"field": "label"}}},
    {"data": {"name": "vl"},
     "transform": [{"filter": "datum.label == '2015.08.04 00:00'"}],
     "mark": {"type": "tick", "orient": "horizontal", "size": 78, "thickness": 16, "opacity": 1, "clip": false},
     "encoding": {
       "x": {"field": "i", "type": "quantitative", "scale": {"domain": [-0.0625, 47.125], "nice": false, "zero": false}},
       "y": {"datum": 9.15, "type": "quantitative", "scale": {"domain": [12.04, 54.18], "nice": false, "zero": false}},
       "color": {"field": "kind", "type": "nominal", "scale": {"domain": ["olive", "lightblue", "blue"], "range": ["#6B8E23", "#87CEFA", "#0000FF"]}, "legend": null}}},
    {"data": {"name": "vl"},
     "transform": [{"filter": "datum.label == '2015.08.04 00:00'"}],
     "mark": {"type": "text", "align": "center", "baseline": "middle", "color": "white", "fontSize": 9, "clip": false},
     "encoding": {
       "x": {"field": "i", "type": "quantitative", "scale": {"domain": [-0.0625, 47.125], "nice": false, "zero": false}},
       "y": {"datum": 9.15, "type": "quantitative", "scale": {"domain": [12.04, 54.18], "nice": false, "zero": false}},
       "text": {"field": "label"}}},
    {"data": {"name": "vl"},
     "transform": [{"filter": "datum.label == '2015.08.02 00:00'"}],
     "mark": {"type": "tick", "orient": "horizontal", "size": 78, "thickness": 16, "opacity": 1, "clip": false},
     "encoding": {
       "x": {"field": "i", "type": "quantitative", "scale": {"domain": [-0.0625, 47.125], "nice": false, "zero": false}},
       "y": {"datum": 9.15, "type": "quantitative", "scale": {"domain": [12.04, 54.18], "nice": false, "zero": false}},
       "color": {"field": "kind", "type": "nominal", "scale": {"domain": ["olive", "lightblue", "blue"], "range": ["#6B8E23", "#87CEFA", "#0000FF"]}, "legend": null}}},
    {"data": {"name": "vl"},
     "transform": [{"filter": "datum.label == '2015.08.02 00:00'"}],
     "mark": {"type": "text", "align": "center", "baseline": "middle", "color": "white", "fontSize": 9, "clip": false},
     "encoding": {
       "x": {"field": "i", "type": "quantitative", "scale": {"domain": [-0.0625, 47.125], "nice": false, "zero": false}},
       "y": {"datum": 9.15, "type": "quantitative", "scale": {"domain": [12.04, 54.18], "nice": false, "zero": false}},
       "text": {"field": "label"}}}
  ]
}
]
}
